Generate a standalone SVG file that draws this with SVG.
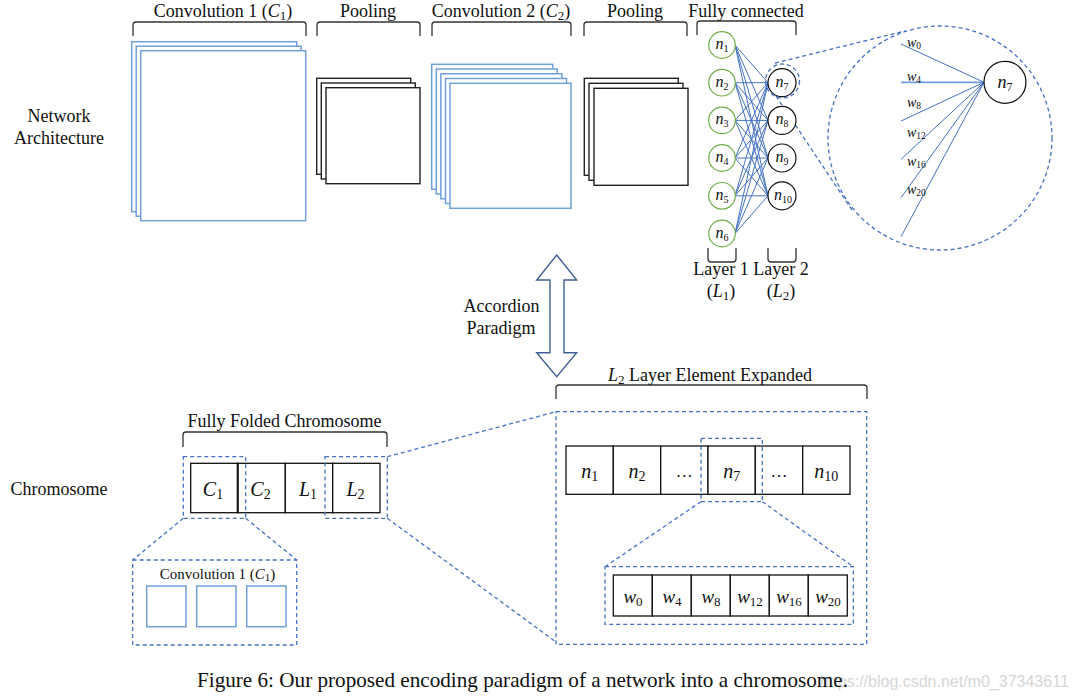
<svg xmlns="http://www.w3.org/2000/svg" width="1078" height="699" viewBox="0 0 1078 699">
<style>
text{font-family:"Liberation Serif","Times New Roman",serif;fill:#111}
.lbl{font-size:18px}
.mi{font-style:italic}
.br{fill:none;stroke:#333;stroke-width:1.3}
.bsq{fill:#fff;stroke:#6fa0dc;stroke-width:1.5}
.ksq{fill:#fff;stroke:#222;stroke-width:1.4}
.dash{fill:none;stroke:#4472c4;stroke-width:1.3;stroke-dasharray:4 3}
.edge{stroke:#4472c4;stroke-width:1}
.gn{fill:#fff;stroke:#70ad47;stroke-width:1.2}
.kn{fill:#fff;stroke:#111;stroke-width:1.2}
.cell{fill:#fff;stroke:#111;stroke-width:1.3}
</style>
<rect width="1078" height="699" fill="#fff"/>

<!-- row labels -->
<g id="row-labels">
<text class="lbl" x="59" y="122" text-anchor="middle">Network</text>
<text class="lbl" x="59" y="144" text-anchor="middle">Architecture</text>
<text class="lbl" x="59" y="495" text-anchor="middle">Chromosome</text>
</g>

<!-- Convolution 1 -->
<g id="conv1">
<text class="lbl" x="223" y="17" text-anchor="middle">Convolution 1 (<tspan class="mi">C</tspan><tspan font-size="13" dy="3">1</tspan><tspan dy="-3">)</tspan></text>
<path class="br" d="M133 36V25Q133 22 136 22H303Q306 22 306 25V36"/>
<rect class="bsq" x="131.7" y="41.7" width="165" height="170"/>
<rect class="bsq" x="136.2" y="46.2" width="165" height="170"/>
<rect class="bsq" x="140.7" y="50.7" width="165" height="170"/>
</g>

<!-- Pooling 1 -->
<g id="pool1">
<text class="lbl" x="368" y="17" text-anchor="middle">Pooling</text>
<path class="br" d="M317 36V25Q317 22 320 22H417Q420 22 420 25V36"/>
<rect class="ksq" x="316.7" y="78.3" width="94" height="96"/>
<rect class="ksq" x="321.3" y="83" width="94" height="96"/>
<rect class="ksq" x="326" y="87.7" width="94" height="96"/>
</g>

<!-- Convolution 2 -->
<g id="conv2">
<text class="lbl" x="501" y="17" text-anchor="middle">Convolution 2 (<tspan class="mi">C</tspan><tspan font-size="13" dy="3">2</tspan><tspan dy="-3">)</tspan></text>
<path class="br" d="M432 36V25Q432 22 435 22H568Q571 22 571 25V36"/>
<rect class="bsq" x="431.7" y="64.3" width="121" height="125"/>
<rect class="bsq" x="436.3" y="69" width="121" height="125"/>
<rect class="bsq" x="440.9" y="73.8" width="121" height="125"/>
<rect class="bsq" x="445.5" y="78.5" width="121" height="125"/>
<rect class="bsq" x="450" y="83.3" width="121" height="125"/>
</g>

<!-- Pooling 2 -->
<g id="pool2">
<text class="lbl" x="635" y="17" text-anchor="middle">Pooling</text>
<path class="br" d="M584 36V25Q584 22 587 22H684Q687 22 687 25V36"/>
<rect class="ksq" x="584.3" y="78.3" width="94" height="97"/>
<rect class="ksq" x="589" y="83.3" width="94" height="97"/>
<rect class="ksq" x="594" y="88.3" width="94" height="97"/>
</g>

<!-- connectors -->
<g id="connectors">
<g class="edge">
<line x1="735" y1="45" x2="768" y2="82.7"/><line x1="735" y1="45" x2="768" y2="120.4"/><line x1="735" y1="45" x2="768" y2="158"/><line x1="735" y1="45" x2="768" y2="195.8"/>
<line x1="735" y1="82.7" x2="768" y2="82.7"/><line x1="735" y1="82.7" x2="768" y2="120.4"/><line x1="735" y1="82.7" x2="768" y2="158"/><line x1="735" y1="82.7" x2="768" y2="195.8"/>
<line x1="735" y1="120.4" x2="768" y2="82.7"/><line x1="735" y1="120.4" x2="768" y2="120.4"/><line x1="735" y1="120.4" x2="768" y2="158"/><line x1="735" y1="120.4" x2="768" y2="195.8"/>
<line x1="735" y1="158" x2="768" y2="82.7"/><line x1="735" y1="158" x2="768" y2="120.4"/><line x1="735" y1="158" x2="768" y2="158"/><line x1="735" y1="158" x2="768" y2="195.8"/>
<line x1="735" y1="195.8" x2="768" y2="82.7"/><line x1="735" y1="195.8" x2="768" y2="120.4"/><line x1="735" y1="195.8" x2="768" y2="158"/><line x1="735" y1="195.8" x2="768" y2="195.8"/>
<line x1="735" y1="233.5" x2="768" y2="82.7"/><line x1="735" y1="233.5" x2="768" y2="120.4"/><line x1="735" y1="233.5" x2="768" y2="158"/><line x1="735" y1="233.5" x2="768" y2="195.8"/>
</g>
<line class="dash" x1="775" y1="63" x2="905" y2="31"/>
<line class="dash" x1="776" y1="96" x2="852" y2="210"/>
<line class="dash" x1="183.3" y1="518.3" x2="132.7" y2="560"/>
<line class="dash" x1="245.7" y1="518.3" x2="296.7" y2="560"/>
<line class="dash" x1="387.3" y1="456.7" x2="556" y2="411.7"/>
<line class="dash" x1="387.3" y1="518.3" x2="556" y2="642"/>
<line class="dash" x1="701" y1="501.7" x2="605" y2="566.7"/>
<line class="dash" x1="762.3" y1="501.7" x2="853.3" y2="566.7"/>
</g>

<!-- Fully connected -->
<g id="fully-connected">
<text class="lbl" x="746" y="17" text-anchor="middle">Fully connected</text>
<path class="br" d="M697 35V24Q697 21 700 21H793Q796 21 796 24V35"/>
<g id="layer1">
<circle class="gn" cx="722" cy="45" r="13.3"/>
<circle class="gn" cx="722" cy="82.7" r="13.3"/>
<circle class="gn" cx="722" cy="120.4" r="13.3"/>
<circle class="gn" cx="722" cy="158" r="13.3"/>
<circle class="gn" cx="722" cy="195.8" r="13.3"/>
<circle class="gn" cx="722" cy="233.5" r="13.3"/>
<g font-size="16" text-anchor="middle">
<text x="722" y="49"><tspan class="mi">n</tspan><tspan font-size="10" dy="3">1</tspan></text>
<text x="722" y="86.7"><tspan class="mi">n</tspan><tspan font-size="10" dy="3">2</tspan></text>
<text x="722" y="124.4"><tspan class="mi">n</tspan><tspan font-size="10" dy="3">3</tspan></text>
<text x="722" y="162"><tspan class="mi">n</tspan><tspan font-size="10" dy="3">4</tspan></text>
<text x="722" y="199.8"><tspan class="mi">n</tspan><tspan font-size="10" dy="3">5</tspan></text>
<text x="722" y="237.5"><tspan class="mi">n</tspan><tspan font-size="10" dy="3">6</tspan></text>
</g>
<path class="br" d="M708 248V259Q708 262 711 262H733Q736 262 736 259V248"/>
<text class="lbl" x="721" y="275" text-anchor="middle">Layer 1</text>
<text class="lbl" x="721" y="297" text-anchor="middle">(<tspan class="mi">L</tspan><tspan font-size="13" dy="3">1</tspan><tspan dy="-3">)</tspan></text>
</g>
<g id="layer2">
<circle class="kn" cx="782" cy="82.7" r="14"/>
<circle class="kn" cx="782" cy="120.4" r="14"/>
<circle class="kn" cx="782" cy="158" r="14"/>
<circle class="kn" cx="782" cy="195.8" r="14"/>
<circle class="dash" cx="782.5" cy="81" r="17"/>
<g font-size="16" text-anchor="middle">
<text x="782" y="86.7"><tspan class="mi">n</tspan><tspan font-size="10" dy="3">7</tspan></text>
<text x="782" y="124.4"><tspan class="mi">n</tspan><tspan font-size="10" dy="3">8</tspan></text>
<text x="782" y="162"><tspan class="mi">n</tspan><tspan font-size="10" dy="3">9</tspan></text>
<text x="783" y="199.8"><tspan class="mi">n</tspan><tspan font-size="10" dy="3">10</tspan></text>
</g>
<path class="br" d="M768 248V259Q768 262 771 262H793Q796 262 796 259V248"/>
<text class="lbl" x="781" y="275" text-anchor="middle">Layer 2</text>
<text class="lbl" x="781" y="297" text-anchor="middle">(<tspan class="mi">L</tspan><tspan font-size="13" dy="3">2</tspan><tspan dy="-3">)</tspan></text>
</g>
</g>

<!-- magnified n7 -->
<g id="n7-detail">
<circle class="dash" cx="940" cy="138" r="112"/>
<g class="edge">
<line x1="901" y1="44" x2="984" y2="82.3"/>
<line x1="901" y1="82.3" x2="984" y2="82.3" stroke-width="1.8" stroke="#6f9be0"/>
<line x1="901" y1="121" x2="984" y2="82.3"/>
<line x1="901" y1="159.3" x2="984" y2="82.3"/>
<line x1="901" y1="197.7" x2="984" y2="82.3"/>
<line x1="901" y1="236.7" x2="984" y2="82.3"/>
</g>
<circle class="kn" cx="1005" cy="82.3" r="21"/>
<text x="1005" y="87.5" font-size="18" text-anchor="middle"><tspan class="mi">n</tspan><tspan font-size="12" dy="3">7</tspan></text>
<g font-size="14">
<text x="907" y="46.5"><tspan class="mi">w</tspan><tspan font-size="9.5" dy="2">0</tspan></text>
<text x="907" y="81"><tspan class="mi">w</tspan><tspan font-size="9.5" dy="2">4</tspan></text>
<text x="907" y="107.3"><tspan class="mi">w</tspan><tspan font-size="9.5" dy="2">8</tspan></text>
<text x="907" y="137.3"><tspan class="mi">w</tspan><tspan font-size="9.5" dy="2">12</tspan></text>
<text x="907" y="165.7"><tspan class="mi">w</tspan><tspan font-size="9.5" dy="2">16</tspan></text>
<text x="907" y="194"><tspan class="mi">w</tspan><tspan font-size="9.5" dy="2">20</tspan></text>
</g>
</g>

<!-- Accordion arrow -->
<g id="accordion">
<path d="M556.7 255L576.7 280H564V352.7H576.7L556.7 376.7L536.7 352.7H550V280H536.7Z" fill="#fff" stroke="#3f5f94" stroke-width="1.4" stroke-linejoin="miter"/>
<text class="lbl" x="501.5" y="311.5" text-anchor="middle">Accordion</text>
<text class="lbl" x="501" y="334" text-anchor="middle">Paradigm</text>
</g>

<!-- Fully folded chromosome -->
<g id="chromosome">
<text class="lbl" x="284.5" y="427" text-anchor="middle">Fully Folded Chromosome</text>
<path class="br" d="M183 447V435Q183 432 186 432H384Q387 432 387 435V447"/>
<rect class="cell" x="190.7" y="463.3" width="47" height="49.4"/>
<rect class="cell" x="237.7" y="463.3" width="47.6" height="49.4"/>
<rect class="cell" x="285.3" y="463.3" width="47.4" height="49.4"/>
<rect class="cell" x="332.7" y="463.3" width="47.3" height="49.4"/>
<line x1="237.7" y1="463.3" x2="237.7" y2="512.7" stroke="#111" stroke-width="2"/>
<g font-size="20" text-anchor="middle">
<text x="213" y="496"><tspan class="mi">C</tspan><tspan font-size="14" dy="3">1</tspan></text>
<text x="260.5" y="496"><tspan class="mi">C</tspan><tspan font-size="14" dy="3">2</tspan></text>
<text x="308" y="496"><tspan class="mi">L</tspan><tspan font-size="14" dy="3">1</tspan></text>
<text x="355.5" y="496"><tspan class="mi">L</tspan><tspan font-size="14" dy="3">2</tspan></text>
</g>
<rect class="dash" x="183.3" y="456.7" width="62.4" height="61.6"/>
<rect class="dash" x="325" y="456.7" width="62.3" height="61.6"/>
</g>

<!-- Convolution 1 expanded -->
<g id="conv1-expanded">
<rect class="dash" x="132.7" y="560" width="164" height="85"/>
<text x="217.5" y="578.5" font-size="15" text-anchor="middle">Convolution 1 (<tspan class="mi">C</tspan><tspan font-size="11" dy="2.5">1</tspan><tspan dy="-2.5">)</tspan></text>
<rect class="bsq" x="146.7" y="586" width="39.3" height="40.7"/>
<rect class="bsq" x="196.7" y="586" width="39.3" height="40.7"/>
<rect class="bsq" x="246.7" y="586" width="39.3" height="40.7"/>
</g>

<!-- L2 expanded -->
<g id="l2-expanded">
<text class="lbl" x="710" y="380.5" text-anchor="middle"><tspan class="mi">L</tspan><tspan font-size="13" dy="3">2</tspan><tspan dy="-3"> Layer Element Expanded</tspan></text>
<path class="br" d="M556 399V388Q556 385 559 385H864Q867 385 867 388V399"/>
<rect class="dash" x="556" y="411.7" width="310.7" height="232.6"/>
<rect class="cell" x="566" y="446" width="47.3" height="48.3"/>
<rect class="cell" x="613.3" y="446" width="47.4" height="48.3"/>
<rect class="cell" x="660.7" y="446" width="47.3" height="48.3"/>
<rect class="cell" x="708" y="446" width="47.3" height="48.3"/>
<rect class="cell" x="755.3" y="446" width="47.4" height="48.3"/>
<rect class="cell" x="802.7" y="446" width="47.3" height="48.3"/>
<g font-size="20" text-anchor="middle">
<text x="589.7" y="478"><tspan class="mi">n</tspan><tspan font-size="14" dy="3">1</tspan></text>
<text x="637" y="478"><tspan class="mi">n</tspan><tspan font-size="14" dy="3">2</tspan></text>
<text x="684.3" y="477" font-size="17">…</text>
<text x="731.7" y="478"><tspan class="mi">n</tspan><tspan font-size="14" dy="3">7</tspan></text>
<text x="779" y="477" font-size="17">…</text>
<text x="826.3" y="478"><tspan class="mi">n</tspan><tspan font-size="14" dy="3">10</tspan></text>
</g>
<rect class="dash" x="701" y="438.3" width="61.3" height="63.4"/>
<rect class="dash" x="605" y="566.7" width="248.3" height="57.6"/>
<rect class="cell" x="613.3" y="575" width="39" height="41"/>
<rect class="cell" x="652.3" y="575" width="39" height="41"/>
<rect class="cell" x="691.3" y="575" width="39" height="41"/>
<rect class="cell" x="730.3" y="575" width="39" height="41"/>
<rect class="cell" x="769.3" y="575" width="39" height="41"/>
<rect class="cell" x="808.3" y="575" width="39" height="41"/>
<g font-size="19" text-anchor="middle">
<text x="633" y="602.5"><tspan class="mi">w</tspan><tspan font-size="13" dy="3">0</tspan></text>
<text x="672" y="602.5"><tspan class="mi">w</tspan><tspan font-size="13" dy="3">4</tspan></text>
<text x="711" y="602.5"><tspan class="mi">w</tspan><tspan font-size="13" dy="3">8</tspan></text>
<text x="750" y="602.5"><tspan class="mi">w</tspan><tspan font-size="13" dy="3">12</tspan></text>
<text x="789" y="602.5"><tspan class="mi">w</tspan><tspan font-size="13" dy="3">16</tspan></text>
<text x="828" y="602.5"><tspan class="mi">w</tspan><tspan font-size="13" dy="3">20</tspan></text>
</g>
</g>

<!-- caption -->
<g id="caption">
<text x="820" y="687" font-size="16" style="font-family:'Liberation Sans',Arial,sans-serif;fill:#d6d6d6">https://blog.csdn.net/m0_37343611</text>
<text x="197" y="687" font-size="21" textLength="651" lengthAdjust="spacingAndGlyphs">Figure 6: Our proposed encoding paradigm of a network into a chromosome.</text>
</g>
</svg>
